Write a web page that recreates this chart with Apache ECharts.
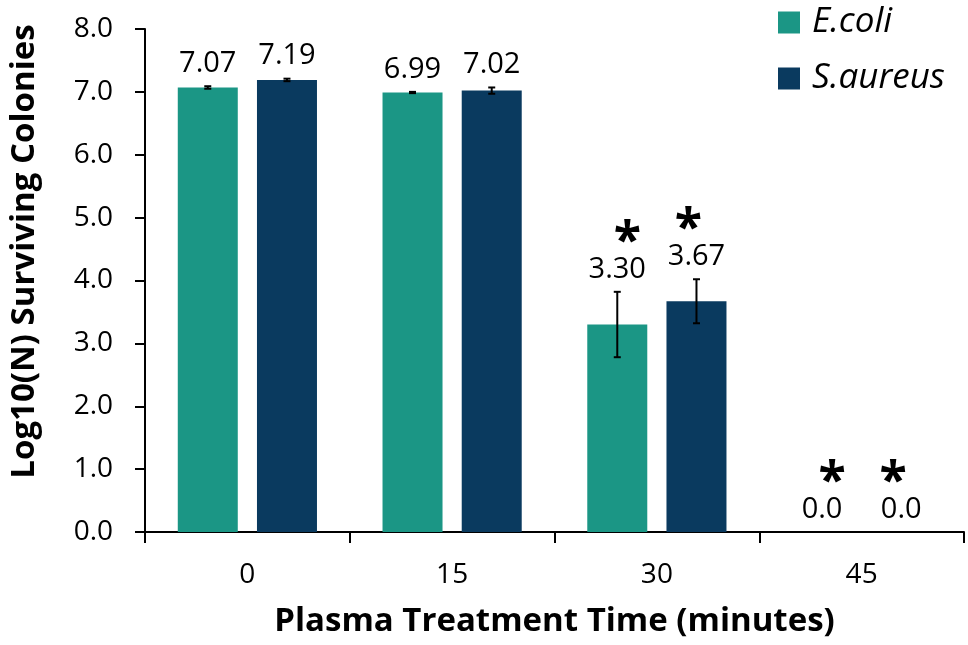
<!DOCTYPE html>
<html>
<head>
<meta charset="utf-8">
<script src="https://cdn.jsdelivr.net/npm/echarts@6/dist/echarts.min.js"></script>
<style>
html,body{margin:0;padding:0;background:#fff;}
#main{width:968px;height:645px;}
</style>
</head>
<body>
<div id="main"></div>
<script>
var categories = ['0', '15', '30', '45'];
var ecoli = [7.07, 6.99, 3.30, 0.0];
var saureus = [7.19, 7.02, 3.67, 0.0];
var ecoliErr = [0.02, 0.01, 0.52, 0];
var saureusErr = [0.02, 0.05, 0.35, 0];
var ecoliLabels = ['7.07', '6.99', '3.30', '0.0'];
var saureusLabels = ['7.19', '7.02', '3.67', '0.0'];
var ecoliSig = [false, false, true, true];
var saureusSig = [false, false, true, true];
var yTicks = [0, 1, 2, 3, 4, 5, 6, 7, 8];

var FONT = '"Open Sans", Lato, sans-serif';
var C_ECOLI = '#1b9685';
var C_SAUR = '#0a3a5f';
var BAR_W = 60;
var BAR_GAP = 0.32;

function errorSeries(name, values, errs, labels, sigs, side, astShift) {
  return {
    type: 'custom',
    name: name + '_err',
    z: 10,
    silent: true,
    data: values.map(function (v, i) { return [i, v]; }),
    encode: { x: 0, y: 1 },
    renderItem: function (params, api) {
      var i = params.dataIndex;
      var v = values[i], e = errs[i];
      var c = api.coord([i, v]);
      var off = (BAR_W + BAR_W * BAR_GAP) / 2 * side;
      var x = c[0] + off;
      var top = api.coord([i, v + e])[1];
      var bot = api.coord([i, v - e])[1];
      var ls = { stroke: '#000', lineWidth: 2 };
      var children = [];
      if (e > 0) {
        children.push({ type: 'line', shape: { x1: x, y1: top, x2: x, y2: bot }, style: ls });
        children.push({ type: 'line', shape: { x1: x - 3.5, y1: top, x2: x + 3.5, y2: top }, style: ls });
        children.push({ type: 'line', shape: { x1: x - 3.5, y1: bot, x2: x + 3.5, y2: bot }, style: ls });
      }
      var labelBottom = top - 8;
      children.push({
        type: 'text',
        style: {
          text: labels[i], x: x, y: labelBottom,
          align: 'center', verticalAlign: 'bottom',
          fontSize: 29, fontFamily: FONT, fill: '#000'
        }
      });
      if (sigs[i]) {
        children.push({
          type: 'text',
          style: {
            text: '*', x: x + astShift, y: labelBottom - 41,
            align: 'center', verticalAlign: 'middle',
            fontSize: 50, fontWeight: 'bold', fontFamily: FONT, fill: '#000'
          }
        });
      }
      return { type: 'group', children: children };
    }
  };
}

var chart = echarts.init(document.getElementById('main'), null, { renderer: 'canvas' });
chart.setOption({
  animation: false,
  backgroundColor: '#fff',
  grid: { left: 145, right: 4, top: 29, bottom: 113, containLabel: false, outerBoundsMode: 'none' },
  legend: {
    orient: 'vertical',
    left: 773,
    top: 0,
    itemWidth: 22,
    itemHeight: 22,
    itemGap: 21,
    icon: 'rect',
    data: ['E.coli', 'S.aureus'],
    textStyle: {
      fontSize: 35, fontStyle: 'italic', fontFamily: FONT, color: '#000',
      lineHeight: 22, padding: [0, 0, 0, 7]
    }
  },
  xAxis: {
    type: 'category',
    data: categories,
    name: 'Plasma Treatment Time (minutes)',
    nameLocation: 'middle',
    nameGap: 73,
    nameTextStyle: { fontSize: 33, fontWeight: 'bold', fontFamily: FONT, color: '#000' },
    axisLine: { lineStyle: { color: '#000', width: 2 } },
    axisTick: { show: true, length: 11, lineStyle: { color: '#000', width: 2 } },
    axisLabel: { fontSize: 28, fontFamily: FONT, color: '#000', margin: 29 },
    splitLine: { show: false }
  },
  yAxis: {
    type: 'value',
    min: yTicks[0],
    max: yTicks[yTicks.length - 1],
    interval: 1,
    name: 'Log10(N) Surviving Colonies',
    nameLocation: 'middle',
    nameGap: 104,
    nameRotate: 90,
    nameTextStyle: { fontSize: 33, fontWeight: 'bold', fontFamily: FONT, color: '#000', padding: [0, 0, 0, 58] },
    axisLine: { show: true, lineStyle: { color: '#000', width: 2 } },
    axisTick: { show: true, length: 10, lineStyle: { color: '#000', width: 2 } },
    axisLabel: {
      fontSize: 28, fontFamily: FONT, color: '#000', margin: 32,
      formatter: function (v) { return v.toFixed(1); }
    },
    splitLine: { show: false }
  },
  series: [
    {
      type: 'bar', name: 'E.coli', data: ecoli,
      barWidth: BAR_W, barGap: (BAR_GAP * 100) + '%',
      itemStyle: { color: C_ECOLI }
    },
    {
      type: 'bar', name: 'S.aureus', data: saureus,
      barWidth: BAR_W, barGap: (BAR_GAP * 100) + '%',
      itemStyle: { color: C_SAUR }
    },
    errorSeries('E.coli', ecoli, ecoliErr, ecoliLabels, ecoliSig, -1, 10),
    errorSeries('S.aureus', saureus, saureusErr, saureusLabels, saureusSig, 1, -8)
  ]
});
</script>
</body>
</html>
